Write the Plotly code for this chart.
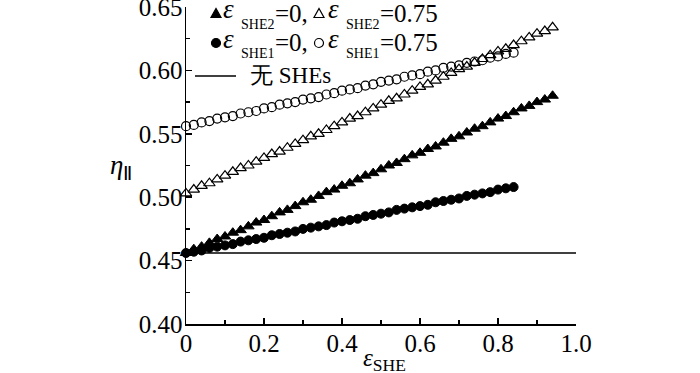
import plotly.graph_objects as go

# ---- data ----
x_tri = [0.00, 0.02, 0.04, 0.06, 0.08, 0.10, 0.12, 0.14, 0.16, 0.18,
         0.20, 0.22, 0.24, 0.26, 0.28, 0.30, 0.32, 0.34, 0.36, 0.38,
         0.40, 0.42, 0.44, 0.46, 0.48, 0.50, 0.52, 0.54, 0.56, 0.58,
         0.60, 0.62, 0.64, 0.66, 0.68, 0.70, 0.72, 0.74, 0.76, 0.78,
         0.80, 0.82, 0.84, 0.86, 0.88, 0.90, 0.92, 0.94]
she2_0 = [0.456, 0.459, 0.461, 0.464, 0.467, 0.469, 0.472, 0.474, 0.477, 0.480,
          0.482, 0.485, 0.488, 0.490, 0.493, 0.496, 0.498, 0.501, 0.504, 0.506,
          0.509, 0.511, 0.514, 0.517, 0.519, 0.522, 0.525, 0.527, 0.530, 0.533,
          0.535, 0.538, 0.540, 0.543, 0.546, 0.548, 0.551, 0.554, 0.556, 0.559,
          0.562, 0.564, 0.567, 0.570, 0.572, 0.575, 0.577, 0.580]
she2_075 = [0.503, 0.506, 0.509, 0.511, 0.514, 0.517, 0.520, 0.523, 0.525, 0.528,
            0.531, 0.534, 0.536, 0.539, 0.542, 0.545, 0.548, 0.550, 0.553, 0.556,
            0.559, 0.562, 0.564, 0.567, 0.570, 0.573, 0.576, 0.578, 0.581, 0.584,
            0.587, 0.589, 0.592, 0.595, 0.598, 0.601, 0.603, 0.606, 0.609, 0.612,
            0.615, 0.617, 0.620, 0.623, 0.626, 0.629, 0.631, 0.634]
x_cir = [0.00, 0.02, 0.04, 0.06, 0.08, 0.10, 0.12, 0.14, 0.16, 0.18,
         0.20, 0.22, 0.24, 0.26, 0.28, 0.30, 0.32, 0.34, 0.36, 0.38,
         0.40, 0.42, 0.44, 0.46, 0.48, 0.50, 0.52, 0.54, 0.56, 0.58,
         0.60, 0.62, 0.64, 0.66, 0.68, 0.70, 0.72, 0.74, 0.76, 0.78,
         0.80, 0.82, 0.84]
she1_0 = [0.456, 0.457, 0.458, 0.460, 0.461, 0.462, 0.463, 0.465, 0.466, 0.467,
          0.468, 0.470, 0.471, 0.472, 0.473, 0.475, 0.476, 0.477, 0.478, 0.480,
          0.481, 0.482, 0.483, 0.485, 0.486, 0.487, 0.488, 0.490, 0.491, 0.492,
          0.493, 0.494, 0.496, 0.497, 0.498, 0.499, 0.501, 0.502, 0.503, 0.504,
          0.506, 0.507, 0.508]
she1_075 = [0.556, 0.557, 0.559, 0.560, 0.562, 0.563, 0.564, 0.566, 0.567, 0.568,
            0.570, 0.571, 0.573, 0.574, 0.575, 0.577, 0.578, 0.579, 0.581, 0.582,
            0.584, 0.585, 0.586, 0.588, 0.589, 0.591, 0.592, 0.593, 0.595, 0.596,
            0.597, 0.599, 0.600, 0.602, 0.603, 0.604, 0.606, 0.607, 0.608, 0.610,
            0.611, 0.613, 0.614]
x_none = [0.0, 1.0]
no_she = [0.456, 0.456]

x_tickvals = [0, 0.2, 0.4, 0.6, 0.8, 1.0]
x_ticktext = ["0", "0.2", "0.4", "0.6", "0.8", "1.0"]
y_tickvals = [0.40, 0.45, 0.50, 0.55, 0.60, 0.65]
y_ticktext = ["0.40", "0.45", "0.50", "0.55", "0.60", "0.65"]

# legend rows: (marker symbol, subscript label, value text)
legend_rows = [
    [("triangle-filled", "SHE2", "=0,"), ("triangle-open", "SHE2", "=0.75")],
    [("circle-filled", "SHE1", "=0,"), ("circle-open", "SHE1", "=0.75")],
]
line_label = "无 SHEs"

FONT = "Liberation Serif, Times New Roman, serif"

# ---- layout geometry (page pixels) ----
W, H = 700, 373
L, R, T, B = 186, 576, 7, 324


def px(xp):
    return (xp - L) / (R - L)


def py(yp):
    return (B - yp) / (B - T)


fig = go.Figure()
fig.add_trace(go.Scatter(
    x=x_tri, y=she2_0, mode="markers", cliponaxis=False, hoverinfo="skip",
    marker=dict(symbol="triangle-up", size=10, color="black",
                line=dict(color="black", width=1))))
fig.add_trace(go.Scatter(
    x=x_tri, y=she2_075, mode="markers", cliponaxis=False, hoverinfo="skip",
    marker=dict(symbol="triangle-up-open", size=10, color="black",
                line=dict(color="black", width=1.2))))
fig.add_trace(go.Scatter(
    x=x_cir, y=she1_0, mode="markers", cliponaxis=False, hoverinfo="skip",
    marker=dict(symbol="circle", size=9, color="black",
                line=dict(color="black", width=1))))
fig.add_trace(go.Scatter(
    x=x_cir, y=she1_075, mode="markers", cliponaxis=False, hoverinfo="skip",
    marker=dict(symbol="circle-open", size=9, color="black",
                line=dict(color="black", width=1.2))))
fig.add_trace(go.Scatter(
    x=x_none, y=no_she, mode="lines", cliponaxis=False, hoverinfo="skip",
    line=dict(color="black", width=1.5)))

fig.update_layout(
    width=W, height=H,
    margin=dict(l=L, r=W - R, t=T, b=H - B, autoexpand=False),
    paper_bgcolor="white", plot_bgcolor="white",
    font=dict(family=FONT, color="black", size=25),
    showlegend=False,
)
fig.update_xaxes(
    range=[0, 1.0], showgrid=False, zeroline=False,
    showline=True, linecolor="black", linewidth=1.5,
    ticks="inside", ticklen=6, tickwidth=1.5, tickcolor="black",
    tickvals=x_tickvals, ticktext=x_ticktext,
    tickfont=dict(family=FONT, size=25), ticklabelstandoff=-4,
    ticklabeloverflow="allow",
    minor=dict(ticks="inside", dtick=0.1, ticklen=4, tickwidth=1.5,
               tickcolor="black", showgrid=False),
)
fig.update_yaxes(
    range=[0.40, 0.65], showgrid=False, zeroline=False,
    showline=True, linecolor="black", linewidth=1.5,
    ticks="inside", ticklen=6, tickwidth=1.5, tickcolor="black",
    tickvals=y_tickvals, ticktext=y_ticktext,
    tickfont=dict(family=FONT, size=25), ticklabelstandoff=-3,
    ticklabeloverflow="allow",
    minor=dict(ticks="inside", dtick=0.025, ticklen=4, tickwidth=1.5,
               tickcolor="black", showgrid=False),
)

# ---- axis titles ----
fig.add_annotation(
    text="<i>η</i><sub>Ⅱ</sub>", xref="paper", yref="paper",
    x=px(121), y=py(167), xanchor="center", yanchor="middle", showarrow=False,
    font=dict(family=FONT, size=27))
fig.add_annotation(
    text="<i>ε</i><sub>SHE</sub>", xref="paper", yref="paper",
    x=px(384), y=py(359), xanchor="center", yanchor="middle", showarrow=False,
    font=dict(family=FONT, size=25))

# ---- custom legend ----
def add_marker(kind, cx, cy):
    filled = kind.endswith("filled")
    fill = "black" if filled else "white"
    if kind.startswith("triangle"):
        fig.add_shape(type="path", xref="paper", yref="paper",
                      xsizemode="pixel", ysizemode="pixel",
                      xanchor=px(cx), yanchor=py(cy),
                      path="M -5,-4 L 5,-4 L 0,5 Z",
                      fillcolor=fill, line=dict(color="black", width=1.2))
    else:
        fig.add_shape(type="circle", xref="paper", yref="paper",
                      xsizemode="pixel", ysizemode="pixel",
                      xanchor=px(cx), yanchor=py(cy),
                      x0=-4.5, x1=4.5, y0=-4.5, y1=4.5,
                      fillcolor=fill, line=dict(color="black", width=1.2))


def add_text(text, x_left, cy, size, italic=False):
    t = f"<i>{text}</i>" if italic else text
    fig.add_annotation(text=t, xref="paper", yref="paper",
                       x=px(x_left), y=py(cy), xanchor="left", yanchor="middle",
                       showarrow=False, borderpad=0,
                       font=dict(family=FONT, size=size, color="black"))


row_y = [13.5, 43]
col_marker_x = [216, 319]
col_text_x = [222, 327]
for r, row in enumerate(legend_rows):
    cy = row_y[r]
    for c, (kind, sub, val) in enumerate(row):
        add_marker(kind, col_marker_x[c], cy)
        x0 = col_text_x[c]
        add_text("ε", x0, cy - 4, 27, italic=True)
        add_text(sub, x0 + 18, cy + 10.5, 14)
        add_text(val, x0 + 52, cy, 25)

fig.add_shape(type="line", xref="paper", yref="paper",
              x0=px(195), x1=px(236), y0=py(76), y1=py(76),
              line=dict(color="black", width=1.5))
add_text(line_label, 249, 75, 23)

fig.write_html("out.html", config={"displayModeBar": False, "staticPlot": True},
               post_script="document.body.style.margin='0px';")
